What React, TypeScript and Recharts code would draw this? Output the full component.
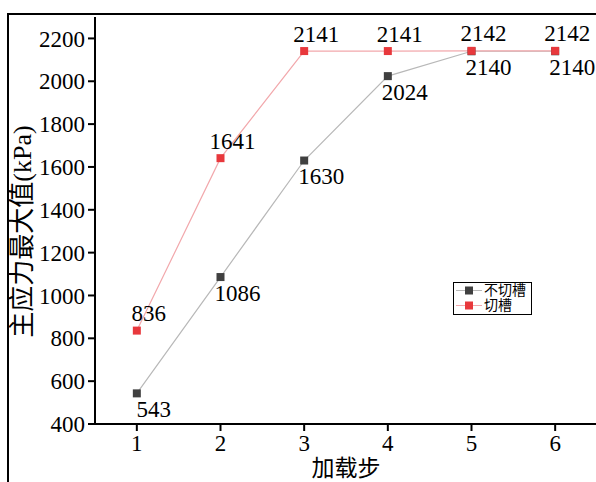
import { LineChart, Line, XAxis, YAxis } from "recharts"

const steps = [1, 2, 3, 4, 5, 6]
const uncutValues = [543, 1086, 1630, 2024, 2140, 2140]
const cutValues = [836, 1641, 2141, 2141, 2142, 2142]
const yTicks = [400, 600, 800, 1000, 1200, 1400, 1600, 1800, 2000, 2200]
const yMinorTicks = [400, 500, 600, 700, 800, 900, 1000, 1100, 1200, 1300, 1400, 1500, 1600, 1700, 1800, 1900, 2000, 2100, 2200, 2300]
const xMinorTicks = [1, 1.5, 2, 2.5, 3, 3.5, 4, 4.5, 5, 5.5, 6]
const seriesNames = ["不切槽", "切槽"]

const data = steps.map((s, i) => ({ step: s, uncut: uncutValues[i], cut: cutValues[i] }))

const serif = "Liberation Serif, Noto Sans CJK SC, serif"
const GRAY = "#404040"
const RED = "#e8383c"
const GRAY_LINE = "#b8b8b8"
const RED_LINE = "#f2a8ac"

const squareDot = (color: string) => (props: any) => {
  const { cx, cy, index } = props
  if (cx == null || cy == null) return null
  return <rect key={`d-${index}`} x={cx - 4} y={cy - 4} width={8} height={8} fill={color} />
}

const valueLabel = (dx: number, dy: number) => (props: any) => {
  const { x, y, value, index } = props
  return (
    <text key={`l-${index}`} x={x + dx} y={y + dy} textAnchor="middle" dominantBaseline="central"
      style={{ fontSize: 23, fontFamily: serif }} fill="#000">
      {value}
    </text>
  )
}

const yTitle = (props: any) => {
  const { viewBox } = props
  const cx = 22
  const cy = viewBox.y + viewBox.height / 2 + 11
  return (
    <text x={cx} y={cy} transform={`rotate(-90 ${cx} ${cy})`} textAnchor="middle" dominantBaseline="central"
      style={{ fontSize: 26, fontFamily: serif }} fill="#000">
      主应力最大值(kPa)
    </text>
  )
}

const tickStyle = { fontSize: 23, fontFamily: serif, fill: "#000" }

export default function App() {
  return (
    <div style={{ position: "absolute", left: 0, top: 0, width: 596, height: 482, overflow: "hidden", background: "#fff", fontFamily: serif }}>
      <div style={{ position: "absolute", left: 7, top: 13, width: 620, height: 500, borderLeft: "2px solid #000", borderTop: "2px solid #000" }} />
      <div style={{ position: "absolute", left: 0, top: 0 }}>
        <LineChart width={600} height={482} data={data} margin={{ top: 17, right: 3, bottom: 0, left: 10 }}
          style={{ fontFamily: serif }}>
          <XAxis xAxisId="minor" dataKey="step" type="number" domain={[0.5, 6.5]} ticks={xMinorTicks}
            height={0} tick={false} tickSize={4} axisLine={false} stroke="#000" tickLine={{ strokeWidth: 2 }} />
          <XAxis dataKey="step" type="number" domain={[0.5, 6.5]} ticks={steps} height={58}
            tickSize={7} tickMargin={4} axisLine={{ stroke: "#000", strokeWidth: 2 }}
            tickLine={{ stroke: "#000", strokeWidth: 2 }}
            tick={{ ...tickStyle, style: { fontFamily: serif } }}
            label={{ value: "加载步", position: "insideBottom", offset: 6, fontSize: 23, fill: "#000", style: { fontFamily: serif } }} />
          <YAxis yAxisId="minor" type="number" domain={[400, 2300]} ticks={yMinorTicks} width={0}
            tick={false} tickSize={4} axisLine={false} stroke="#000" tickLine={{ strokeWidth: 2 }} />
          <YAxis type="number" domain={[400, 2300]} ticks={yTicks} width={85}
            tickSize={7} tickMargin={3} axisLine={{ stroke: "#000", strokeWidth: 2 }}
            tickLine={{ stroke: "#000", strokeWidth: 2 }}
            tick={{ ...tickStyle, style: { fontFamily: serif } }}
            label={{ content: yTitle }} />
          <Line dataKey="uncut" name={seriesNames[0]} stroke={GRAY_LINE} strokeWidth={1.2}
            dot={squareDot(GRAY)} activeDot={false} label={valueLabel(17, 16)} isAnimationActive={false} />
          <Line dataKey="cut" name={seriesNames[1]} stroke={RED_LINE} strokeWidth={1.2}
            dot={squareDot(RED)} activeDot={false} label={valueLabel(12, -17)} isAnimationActive={false} />
        </LineChart>
      </div>
      <div style={{ position: "absolute", left: 453, top: 282, width: 77, height: 31, border: "1px solid #000",
        background: "#fff", fontFamily: serif, fontSize: 14, lineHeight: "15px" }}>
        {seriesNames.map((name, i) => (
          <div key={name} style={{ display: "flex", alignItems: "center", height: 15 }}>
            <svg width={28} height={15} style={{ marginLeft: 1 }}>
              <line x1={1} y1={7.5} x2={27} y2={7.5} stroke={i === 0 ? GRAY_LINE : RED_LINE} strokeWidth={1} />
              <rect x={10} y={3.5} width={8} height={8} fill={i === 0 ? GRAY : RED} />
            </svg>
            <span style={{ marginLeft: 1 }}>{name}</span>
          </div>
        ))}
      </div>
    </div>
  )
}
